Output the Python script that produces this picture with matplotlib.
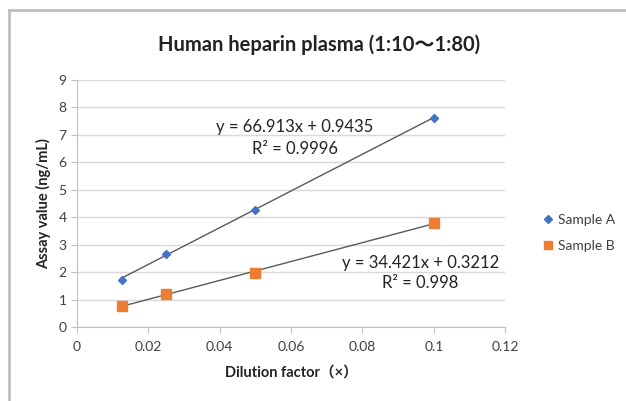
import matplotlib.pyplot as plt
import numpy as np
from matplotlib.lines import Line2D

plt.rcParams['font.family'] = ['Lato', 'Noto Sans CJK JP', 'DejaVu Sans']

dilution = [0.0125, 0.025, 0.05, 0.1]
sample_a = [1.72, 2.65, 4.28, 7.62]
sample_b = [0.75, 1.22, 1.97, 3.80]

fit_a = (66.913, 0.9435)
fit_b = (34.421, 0.3212)
eq_a = ["y = 66.913x + 0.9435", "R\u00b2 = 0.9996"]
eq_b = ["y = 34.421x + 0.3212", "R\u00b2 = 0.998"]

xticks = [0, 0.02, 0.04, 0.06, 0.08, 0.1, 0.12]
xtick_labels = ["0", "0.02", "0.04", "0.06", "0.08", "0.1", "0.12"]
yticks = list(range(10))

blue = "#4472C4"
orange = "#ED7D31"
grid_col = "#D9D9D9"
text_col = "#404040"

fig = plt.figure(figsize=(6.26, 4.01), dpi=100)
ax = fig.add_axes([0.123, 0.1845, 0.684, 0.616])

# frame of the chart area (left and top visible)
fig.add_artist(Line2D([9/626, 9/626], [0, 1 - 10/401], transform=fig.transFigure,
                      color="#BFBFBF", lw=2))
fig.add_artist(Line2D([9/626, 1], [1 - 10/401, 1 - 10/401], transform=fig.transFigure,
                      color="#BFBFBF", lw=2))

xs = np.array([dilution[0], dilution[-1]])
ax.plot(xs, fit_a[0] * xs + fit_a[1], color="#595959", lw=1, zorder=2)
ax.plot(xs, fit_b[0] * xs + fit_b[1], color="#595959", lw=1, zorder=2)

ax.plot(dilution, sample_a, linestyle="none", marker="D", markersize=4.5,
        color=blue, label="Sample A", zorder=3)
ax.plot(dilution, sample_b, linestyle="none", marker="s", markersize=6.5,
        color=orange, label="Sample B", zorder=3)

ax.set_xlim(0, 0.12)
ax.set_ylim(0, 9)
ax.set_xticks(xticks)
ax.set_xticklabels(xtick_labels)
ax.set_yticks(yticks)
ax.yaxis.grid(True, color=grid_col, lw=1)
ax.set_axisbelow(True)
for s in ["top", "right"]:
    ax.spines[s].set_visible(False)
for s in ["left", "bottom"]:
    ax.spines[s].set_color("#BFBFBF")
ax.tick_params(axis="both", colors="#BFBFBF", labelcolor=text_col, labelsize=10,
               length=4)
ax.tick_params(axis="x", pad=6)

fig.text(319/626, 1 - 45/401, "Human heparin plasma (1:10\uff5e1:80)", fontsize=14.5,
         fontweight="bold", color="#222222", ha="center", va="center")
ax.set_xlabel("Dilution factor\uff08\u00d7\uff09", fontsize=10.5, fontweight="bold",
              color="#222222", labelpad=9)
ax.set_ylabel("Assay value (ng/mL)", fontsize=10.5, fontweight="bold", color="#222222",
              labelpad=5)

ax.text(0.0611, 7.29, eq_a[0], fontsize=12, color="#222222", ha="center", va="center")
ax.text(0.0611, 6.49, eq_a[1], fontsize=12, color="#222222", ha="center", va="center")
ax.text(0.0962, 2.33, eq_b[0], fontsize=12, color="#222222", ha="center", va="center")
ax.text(0.0962, 1.60, eq_b[1], fontsize=12, color="#222222", ha="center", va="center")

leg = ax.legend(loc="center left", bbox_to_anchor=(1.061, 0.38), frameon=False,
                fontsize=10, handlelength=0.6, handletextpad=0.4, labelspacing=1.0,
                labelcolor=text_col, markerscale=0.85)

fig.savefig("out.png", dpi=100)
